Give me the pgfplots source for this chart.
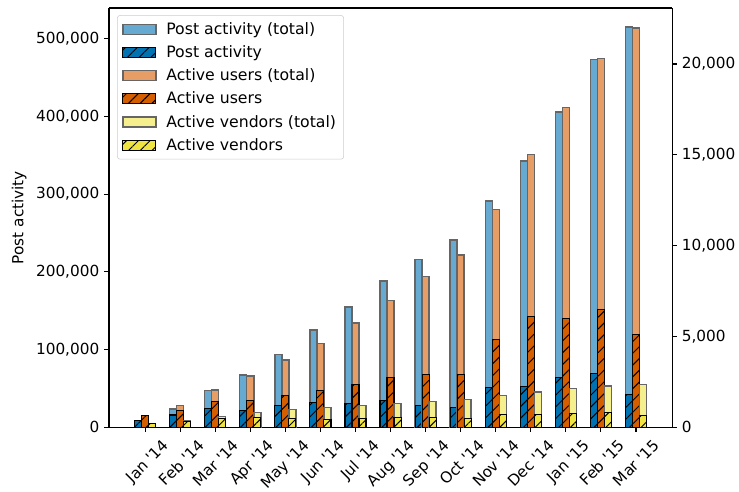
\documentclass[border=0pt]{standalone}
\usepackage{fontspec}
\setmainfont{DejaVu Sans}[Ligatures=TeXOff]
\usepackage{pgfplots}
\pgfplotsset{compat=1.18}
\usetikzlibrary{patterns.meta}
\definecolor{cb}{HTML}{0072B2}
\definecolor{cbt}{HTML}{66AAD1}
\definecolor{co}{HTML}{D55E00}
\definecolor{cot}{HTML}{E69E66}
\definecolor{cy}{HTML}{F0E442}
\definecolor{cyt}{HTML}{F6EF8E}
\pgfplotstableread{
x posttot post usertot user vendtot vend
0  8400   8400  640   640  204  204
1  23100  15600 1190  900  350  330
2  46700  24000 2038  1415 589  457
3  67200  21500 2809  1450 809  512
4  93800  27400 3690  1725 973  496
5  125100 32100 4590  2038 1083 440
6  154700 30400 5727  2350 1193 477
7  188100 34300 6975  2735 1303 514
8  215500 27900 8277  2900 1395 514
9  241000 25700 9480  2900 1524 496
10 291100 51400 12000 4810 1744 716
11 342500 52300 15000 6075 1927 716
12 405500 63800 17610 5985 2110 752
13 473600 68600 20310 6480 2258 790
14 515000 42000 21980 5085 2350 660
}\data
\pgfplotsset{
  tot/.style={ybar, bar width=0.2, fill=#1, draw=black!60, line width=1pt, forget plot},
  hat/.style={ybar, bar width=0.2, fill=#1, draw=black, line width=0.8pt, forget plot,
     postaction={pattern={Lines[angle=45,distance=6pt,line width=0.7pt]}}},
  common/.style={
    scale only axis, width=405.4pt, height=301.7pt,
    xmin=-1.03, xmax=15.03,
    axis line style={line width=0.8pt},
    tick style={line width=0.8pt, black},
    tick align=outside, major tick length=3.5pt,
    ymin=0,
    scaled y ticks=false,
    tick label style={font=\fontsize{11}{13}\selectfont},
    label style={font=\fontsize{11}{13}\selectfont},
    /pgf/number format/assume math mode=true,
    /pgf/number format/fixed,
    /pgf/number format/precision=0,
    /pgf/number format/1000 sep={,},
  }
}
\newcommand{\legpad}{\hspace*{5pt}}
\begin{document}
\begin{tikzpicture}
\begin{axis}[common,
  ymax=539500,
  axis y line*=left,
  xtick={0,...,14}, xtick pos=bottom,
  xticklabels={Jan '14,Feb '14,Mar '14,Apr '14,May '14,Jun '14,Jul '14,Aug '14,Sep '14,Oct '14,Nov '14,Dec '14,Jan '15,Feb '15,Mar '15},
  xticklabel style={xshift=12pt, rotate=45, anchor=north east},
  ytick={0,100000,200000,300000,400000,500000},
  ylabel={Post activity},
]
\addplot[tot=cbt, bar shift=-0.2] table[x=x, y=posttot] {\data};
\addplot[hat=cb, bar shift=-0.2] table[x=x, y=post] {\data};
\end{axis}
\begin{axis}[common,
  ymax=23080,
  axis y line*=right, axis x line=none,
  ytick={0,5000,10000,15000,20000},
  legend image code/.code={\draw[sharp corners,#1] (0pt,-3.6pt) rectangle (23.8pt,3.6pt);},
  legend cell align=left,
  legend style={at={(0.0142,0.983)}, anchor=north west, draw=black!20, rounded corners=2pt,
    fill=white, font=\fontsize{11.3}{13}\selectfont, row sep=2.6pt, inner ysep=3pt, inner xsep=3.5pt},
]
\addplot[tot=cot, bar shift=0] table[x=x, y=usertot] {\data};
\addplot[hat=co, bar shift=0] table[x=x, y=user] {\data};
\addplot[tot=cyt, bar shift=0.2] table[x=x, y=vendtot] {\data};
\addplot[hat=cy, bar shift=0.2] table[x=x, y=vend] {\data};
\addlegendimage{fill=cbt, draw=black!60, line width=1pt}
\addlegendentry{\legpad Post activity (total)}
\addlegendimage{fill=cb, draw=black, line width=0.8pt, postaction={pattern={Lines[angle=45,distance=6pt,line width=0.7pt]}}}
\addlegendentry{\legpad Post activity}
\addlegendimage{fill=cot, draw=black!60, line width=1pt}
\addlegendentry{\legpad Active users (total)}
\addlegendimage{fill=co, draw=black, line width=0.8pt, postaction={pattern={Lines[angle=45,distance=6pt,line width=0.7pt]}}}
\addlegendentry{\legpad Active users}
\addlegendimage{fill=cyt, draw=black!60, line width=1pt}
\addlegendentry{\legpad Active vendors (total)}
\addlegendimage{fill=cy, draw=black, line width=0.8pt, postaction={pattern={Lines[angle=45,distance=6pt,line width=0.7pt]}}}
\addlegendentry{\legpad Active vendors}
\end{axis}
\pgfresetboundingbox
\path[use as bounding box] (-78.5pt,-46.1pt) rectangle (453.6pt,307.5pt);
\end{tikzpicture}
\end{document}
